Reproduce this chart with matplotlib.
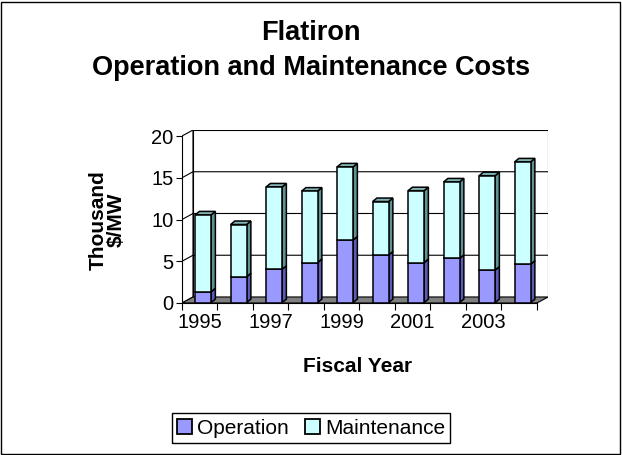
import matplotlib
matplotlib.use("Agg")
import matplotlib.pyplot as plt
from matplotlib.patches import Polygon, Rectangle, Patch

plt.rcParams['font.family'] = ['Liberation Sans', 'DejaVu Sans']

years = ['1995', '1996', '1997', '1998', '1999', '2000', '2001', '2002', '2003', '2004']
operation = [1.3, 3.1, 4.0, 4.8, 7.5, 5.7, 4.8, 5.3, 3.9, 4.6]
total = [10.5, 9.35, 13.85, 13.35, 16.25, 12.1, 13.4, 14.45, 15.2, 16.85]
maintenance = [t - o for t, o in zip(total, operation)]

W, H = 622, 455
fig = plt.figure(figsize=(W / 100, H / 100), dpi=100)

# plot area in pixels (front axis x0..x1, back wall top, floor bottom)
px_left, px_right, px_top, px_bot = 182, 548, 130, 303
ax = fig.add_axes([px_left / W, 1 - px_bot / H, (px_right - px_left) / W, (px_bot - px_top) / H])

n = len(years)
dx, dy = 0.31, 0.72      # wall depth in data units
bdx, bdy = 0.12, 0.42    # bar depth
bw = 0.45
lw = 1.1
ax.set_xlim(0, n + dx)
ax.set_ylim(0, 20 + dy)

# walls and floor
ax.add_patch(Polygon([(0, 0), (dx, dy), (dx, 20 + dy), (0, 20)], closed=True,
                     facecolor='white', edgecolor='black', lw=0.8, zorder=1))
ax.add_patch(Rectangle((dx, dy), n, 20, facecolor='white', edgecolor='black', lw=0.8, zorder=1))
ax.add_patch(Polygon([(0, 0), (n, 0), (n + dx, dy), (dx, dy)], closed=True,
                     facecolor='#808080', edgecolor='black', lw=0.8, zorder=2))
for v in [5, 10, 15]:
    ax.plot([0, dx, n + dx], [v, v + dy, v + dy], color='black', lw=0.8, zorder=1.5)


def draw_box(x0, b, t, side, top):
    ax.add_patch(Polygon([(x0 + bw, b), (x0 + bw + bdx, b + bdy), (x0 + bw + bdx, t + bdy), (x0 + bw, t)],
                         closed=True, facecolor=side, edgecolor='black', lw=lw, zorder=3))
    ax.add_patch(Polygon([(x0, t), (x0 + bw, t), (x0 + bw + bdx, t + bdy), (x0 + bdx, t + bdy)],
                         closed=True, facecolor=top, edgecolor='black', lw=lw, zorder=3))


xoff = (dx - bdx) / 2
yoff = 0.05
lefts = [i + 0.5 - bw / 2 + xoff for i in range(n)]
for i in range(n):
    draw_box(lefts[i], yoff, yoff + operation[i], '#5C5CB8', '#7A7AD6')
    draw_box(lefts[i], yoff + operation[i], yoff + total[i], '#5F9393', '#80B3B3')
ax.bar(lefts, operation, width=bw, bottom=yoff, align='edge', color='#9999FF',
       edgecolor='black', lw=lw, zorder=4)
ax.bar(lefts, maintenance, width=bw, bottom=[yoff + o for o in operation], align='edge',
       color='#CCFFFF', edgecolor='black', lw=lw, zorder=4)

# axes
for s in ['top', 'right']:
    ax.spines[s].set_visible(False)
ax.spines['left'].set_bounds(0, 20)
ax.spines['bottom'].set_bounds(0, n)
ax.spines['left'].set_linewidth(0.8)
ax.spines['bottom'].set_linewidth(0.8)
ax.patch.set_visible(False)
ax.set_yticks([0, 5, 10, 15, 20])
ax.set_yticklabels(['0', '5', '10', '15', '20'], fontsize=14.5)
ax.tick_params(axis='y', length=4, width=0.8, pad=2)
ax.set_xticks([i + 0.5 for i in range(0, n, 2)])
ax.set_xticklabels(years[::2], fontsize=14.5)
ax.set_xticks(range(n + 1), minor=True)
ax.tick_params(axis='x', which='major', length=0, pad=7)
ax.tick_params(axis='x', which='minor', length=5, width=0.8)

fig.text(311 / W, 1 - 33 / H, 'Flatiron', ha='center', va='center', fontsize=19.5, fontweight='bold')
fig.text(311 / W, 1 - 68 / H, 'Operation and Maintenance Costs', ha='center', va='center',
         fontsize=19.5, fontweight='bold')
fig.text(358 / W, 1 - 367 / H, 'Fiscal Year', ha='center', va='center', fontsize=15, fontweight='bold')
fig.text(107 / W, 1 - 220 / H, 'Thousand\n$/MW', ha='center', va='center', rotation=90,
         multialignment='center', fontsize=15, fontweight='bold', linespacing=0.95)

handles = [Patch(facecolor='#9999FF', edgecolor='black', lw=1.3, label='Operation'),
           Patch(facecolor='#CCFFFF', edgecolor='black', lw=1.3, label='Maintenance')]
fig.legend(handles=handles, loc='center', bbox_to_anchor=(311 / W, 1 - 428 / H), ncol=2,
           fontsize=15, frameon=True, fancybox=False, edgecolor='black', framealpha=1,
           handlelength=0.7, handleheight=0.7, handletextpad=0.25, columnspacing=0.8,
           borderpad=0.25, borderaxespad=0)

fig.patches.append(Rectangle((1 / W, 1 / H), 1 - 3 / W, 1 - 3 / H, transform=fig.transFigure,
                             fill=False, edgecolor='black', lw=1))

fig.savefig('out.png', dpi=100)
